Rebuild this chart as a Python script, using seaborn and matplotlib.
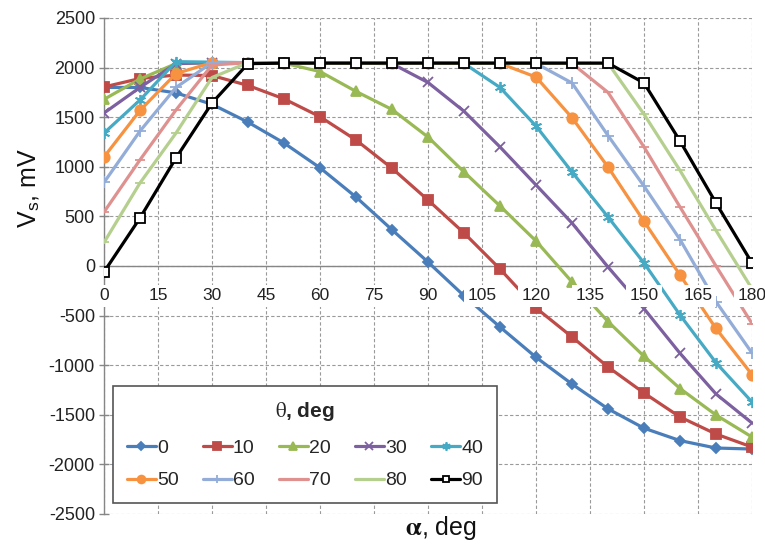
import matplotlib
matplotlib.use("Agg")
import matplotlib.pyplot as plt
import pandas as pd
import seaborn as sns

# ---- data ----
alpha = list(range(0, 181, 10))
theta = [0, 10, 20, 30, 40, 50, 60, 70, 80, 90]

vs_0 = [1800, 1800, 1745, 1630, 1450, 1240, 990, 695, 365, 40, -300, -615, -920, -1190, -1440, -1635, -1760, -1835, -1845]
vs_10 = [1805, 1890, 1925, 1920, 1820, 1685, 1505, 1270, 985, 665, 333, -30, -423, -715, -1018, -1280, -1522, -1694, -1825]
vs_20 = [1680, 1885, 2040, 2050, 2050, 2045, 1960, 1760, 1578, 1300, 948, 605, 252, -161, -560, -910, -1235, -1502, -1724]
vs_30 = [1542, 1800, 2040, 2050, 2050, 2045, 2045, 2045, 2040, 1850, 1560, 1200, 817, 433, -10, -430, -880, -1290, -1583]
vs_40 = [1340, 1673, 2060, 2055, 2050, 2045, 2045, 2045, 2045, 2045, 2042, 1800, 1411, 948, 494, 30, -494, -975, -1371]
vs_50 = [1099, 1568, 1940, 2050, 2050, 2045, 2045, 2045, 2045, 2045, 2045, 2042, 1905, 1495, 998, 450, -91, -630, -1095]
vs_60 = [842, 1360, 1800, 2050, 2050, 2045, 2045, 2045, 2045, 2045, 2045, 2045, 2042, 1845, 1315, 805, 267, -360, -877]
vs_70 = [544, 1070, 1573, 2026, 2050, 2045, 2045, 2045, 2045, 2045, 2045, 2045, 2045, 2042, 1750, 1200, 595, 0, -580]
vs_80 = [237, 837, 1340, 1900, 2050, 2045, 2045, 2045, 2045, 2045, 2045, 2045, 2045, 2045, 2045, 1530, 963, 358, -230]
vs_90 = [-60, 484, 1089, 1643, 2040, 2045, 2045, 2045, 2045, 2045, 2045, 2045, 2045, 2045, 2045, 1845, 1260, 635, 30]

series = [vs_0, vs_10, vs_20, vs_30, vs_40, vs_50, vs_60, vs_70, vs_80, vs_90]
x_ticks = list(range(0, 181, 15))
y_ticks = list(range(-2500, 2501, 500))

# ---- styles ----
colors = ["#4A7EBB", "#BE4B48", "#98B954", "#7D60A0", "#46AAC5",
          "#F69240", "#93ADD8", "#DE918F", "#B5CF8E", "#000000"]
markers = ["D", "s", "^", "x", (6, 2, 0), "o", "+", "_", "_", "s"]
msizes = [5, 7, 7, 7, 8, 7.5, 8, 7, 7, 6.5]

sns.set_theme(style="white")
plt.rcParams["font.family"] = ["Liberation Sans", "DejaVu Sans"]
plt.rcParams["mathtext.fontset"] = "stix"

fig = plt.figure(figsize=(7.65, 5.46), dpi=100)
ax = fig.add_axes([104 / 765, 1 - 514 / 546, 648 / 765, 496 / 546])

df = pd.DataFrame({"alpha": alpha})
for th, vals in zip(theta, series):
    df[str(th)] = vals

for i, th in enumerate(theta):
    c = colors[i]
    face = "white" if th == 90 else c
    sns.lineplot(data=df, x="alpha", y=str(th), ax=ax, color=c, lw=2.3,
                 marker=markers[i], markersize=msizes[i],
                 markerfacecolor=face, markeredgecolor=c, markeredgewidth=1.3,
                 label=str(th), zorder=3 + i * 0.01)

ax.set_xlim(0, 180)
ax.set_ylim(-2500, 2500)

# grid
ax.set_xticks(x_ticks)
ax.set_yticks(y_ticks)
ax.grid(True, color="#9a9a9a", linestyle=(0, (3, 2)), linewidth=0.8)
ax.set_axisbelow(True)

for s in ["top", "right"]:
    ax.spines[s].set_visible(False)
ax.spines["bottom"].set_position(("data", 0))
ax.spines["bottom"].set_color("#868686")
ax.spines["left"].set_color("#868686")
ax.spines["bottom"].set_linewidth(1.0)
ax.spines["left"].set_linewidth(1.0)

ax.tick_params(axis="x", length=0, labelbottom=False)
ax.tick_params(axis="y", direction="inout", length=7, width=1, color="#868686",
               labelsize=13, labelcolor="#222222", pad=3, left=True)
ax.set_yticklabels([str(v) for v in y_ticks])

# x tick labels placed at y = 0 with white background (Excel style)
for t in x_ticks:
    ax.annotate(str(t), xy=(t, 0), xytext=(0, -16), textcoords="offset points",
                ha="center", va="top", fontsize=12.5, color="#222222",
                bbox=dict(boxstyle="square,pad=0.2", fc="white", ec="none"),
                zorder=10, annotation_clip=False)

# axis labels
ax.set_ylabel(r"V$_{\mathregular{s}}$, mV", fontsize=18, color="#111111")
ax.yaxis.set_label_coords(-0.117, 0.657)
ax.yaxis.label.set_va("center")
ax.set_xlabel(r"$\mathbf{\alpha}$, deg", fontsize=18, color="#111111")
ax.xaxis.set_label_coords(0.52, -0.028)
ax.xaxis.label.set_va("center")

# legend (row-wise order like the reference: 0..40 on top, 50..90 below)
handles, labels = ax.get_legend_handles_labels()
order = [0, 5, 1, 6, 2, 7, 3, 8, 4, 9]
leg = ax.legend([handles[k] for k in order], [labels[k] for k in order],
                ncol=5, loc="lower left",
                bbox_to_anchor=(0.0139, 0.022, 0.592, 0.234), mode="expand",
                title=r"$\mathrm{\theta}$, deg",
                title_fontproperties={"size": 15, "weight": "bold"},
                fontsize=14, frameon=True, fancybox=False, edgecolor="#555555",
                framealpha=1, handlelength=1.5, handletextpad=0.05,
                columnspacing=0.6, borderaxespad=0, borderpad=0.7,
                labelspacing=0.75, markerscale=0.75)
leg.get_frame().set_linewidth(1.2)
leg._legend_box.sep = 12
leg.set_zorder(20)

fig.savefig("out.png", dpi=100)
